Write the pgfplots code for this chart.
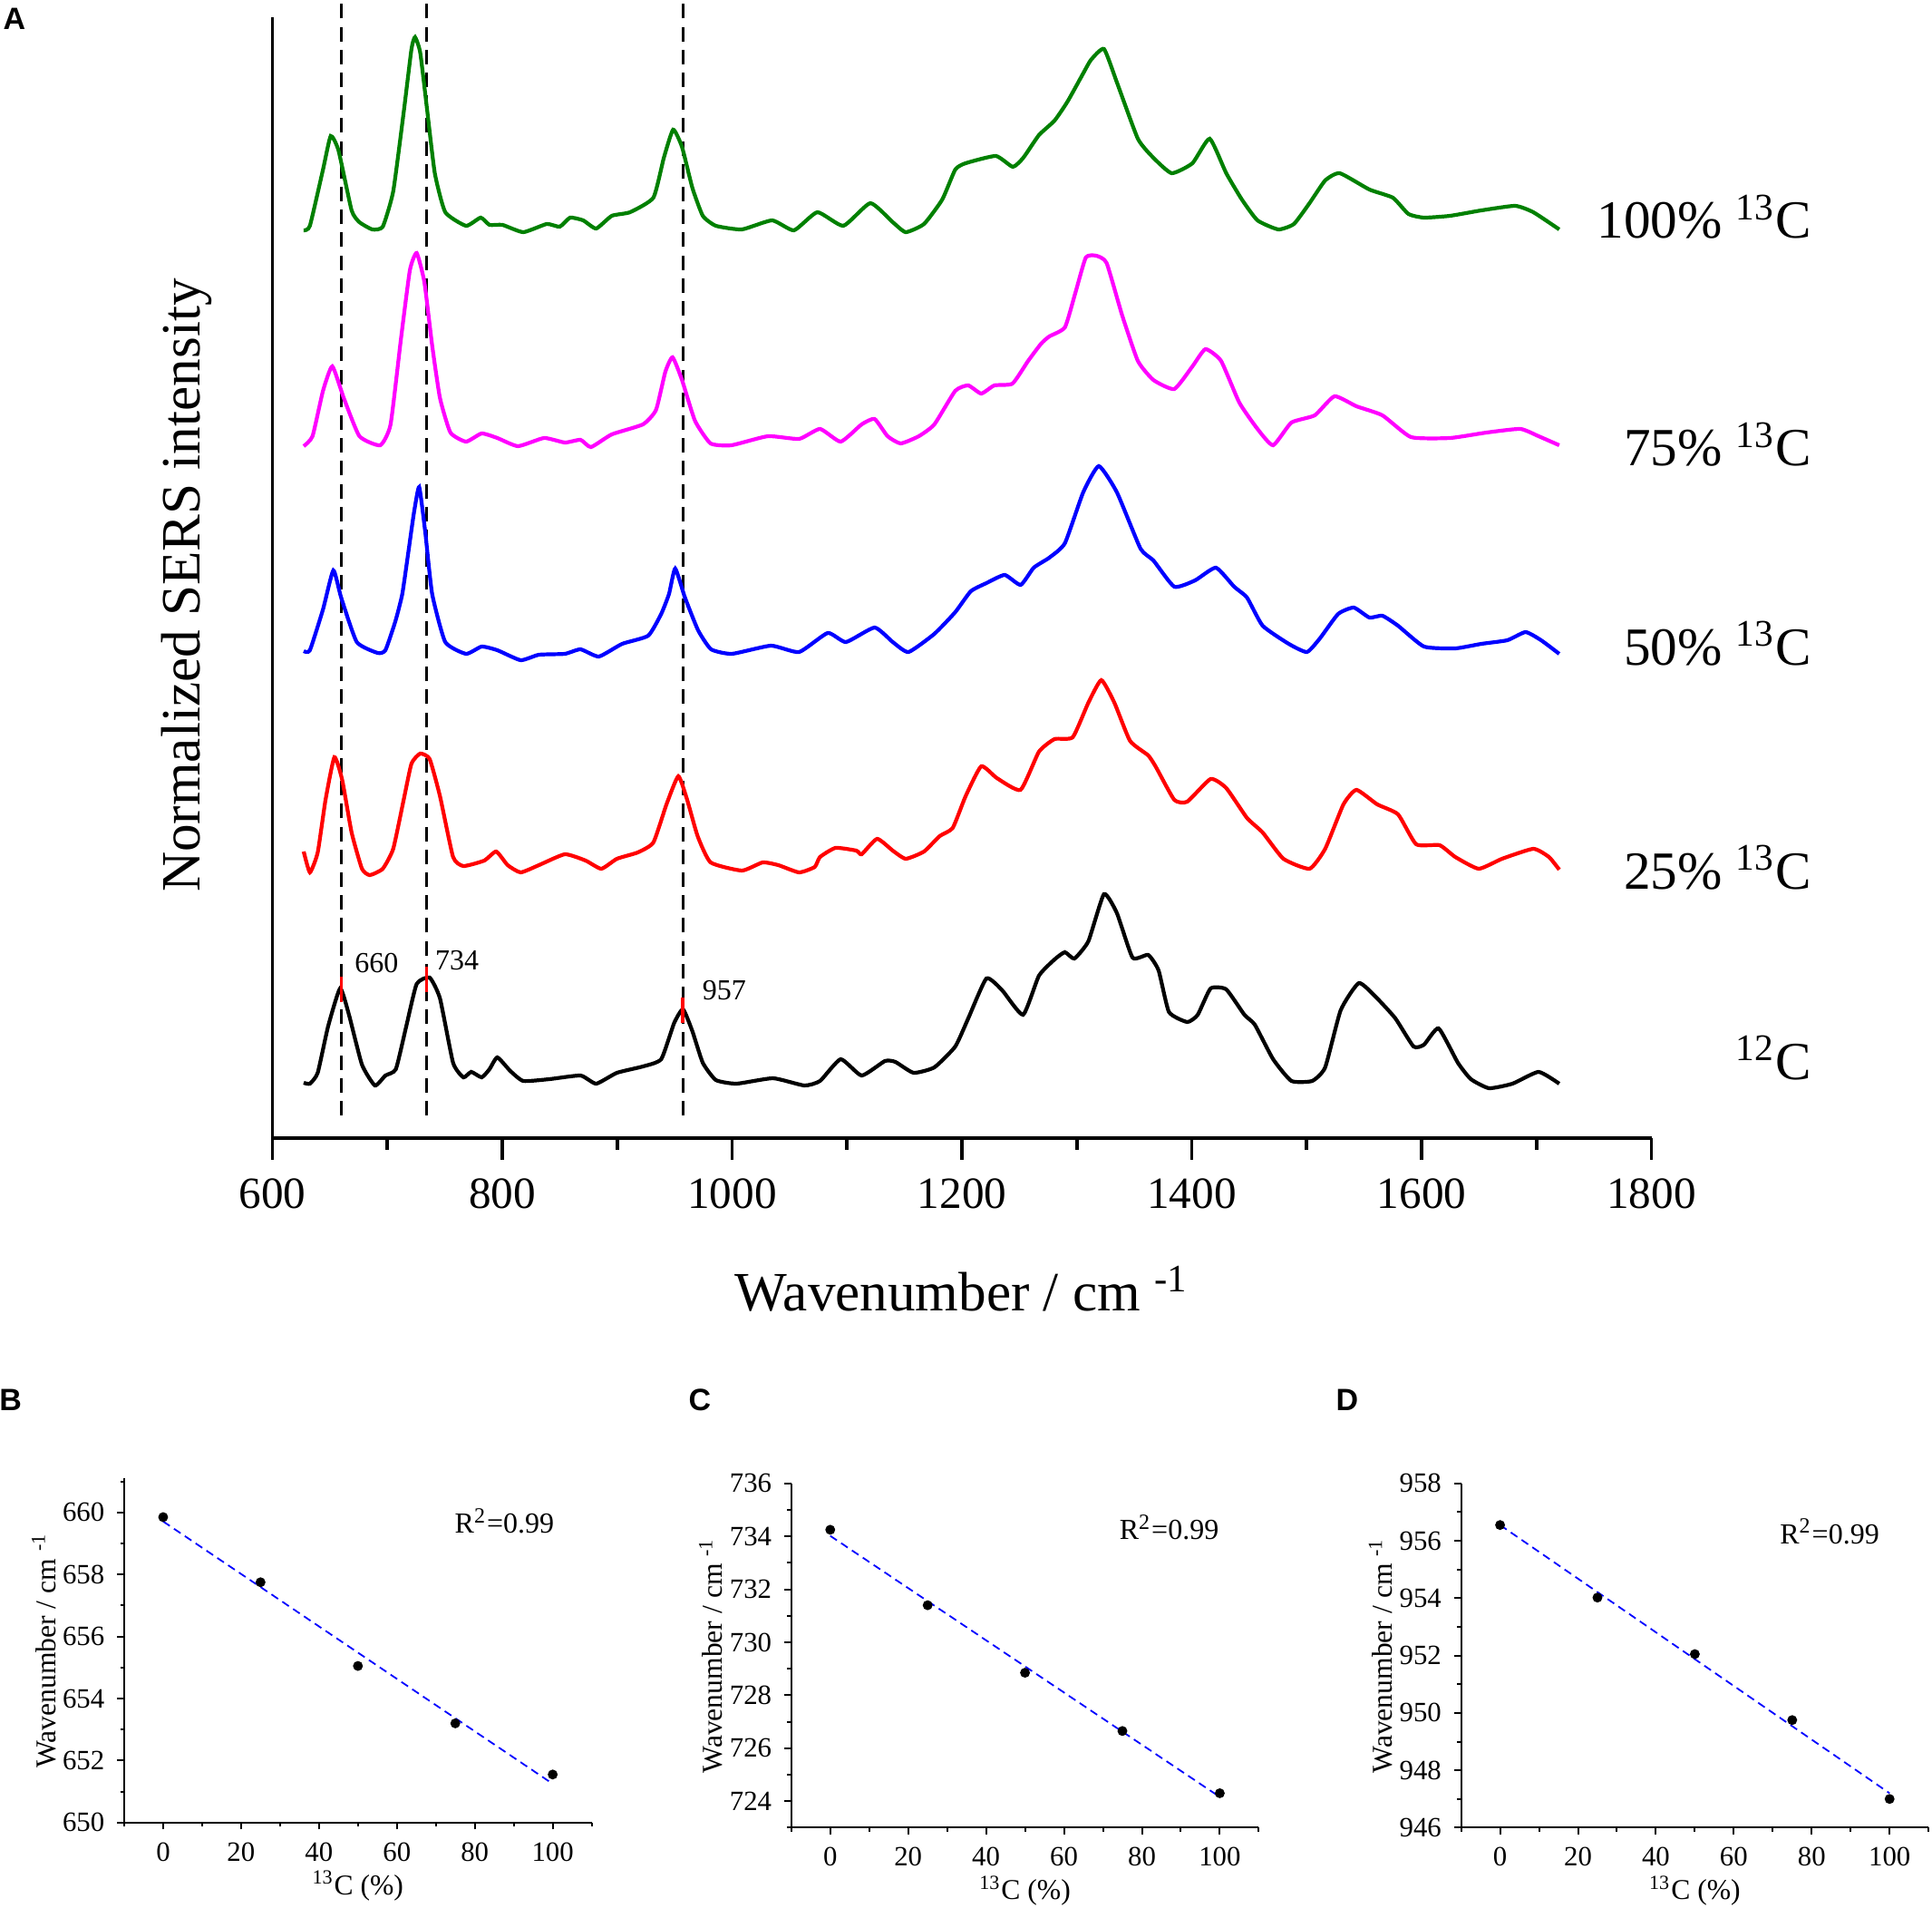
\documentclass[border=0pt]{standalone}
\usepackage{fontspec}
\setmainfont{Liberation Serif}
\newfontfamily\panelfont{Liberation Sans}
\usepackage{pgfplots}
\pgfplotsset{compat=1.18}
\definecolor{sgreen}{rgb}{0,0.5,0}
\definecolor{smag}{rgb}{1,0,1}
\definecolor{sblue}{rgb}{0,0,1}
\definecolor{sred}{rgb}{1,0,0}
\pgfplotsset{
  small/.style={
    scale only axis, anchor=south west, width=128.9pt, height=94.9pt,
    xmin=-10, xmax=110,
    axis x line*=bottom, axis y line*=left,
    xtick={0,20,40,60,80,100}, minor xtick={-10,10,30,50,70,90,110},
    tick align=outside, major tick length=1.9pt, minor tick length=1.1pt,
    axis line style={line width=0.5pt}, tick style={black,line width=0.5pt},
    /pgf/number format/assume math mode=true,
    /pgf/number format/1000 sep={},
    tick label style={font=\fontsize{7.7}{9}\selectfont},
    xlabel={\textsuperscript{13}C (\%)},
    xlabel style={at={(axis description cs:0.5,-0.184)}, anchor=center, font=\fontsize{7.9}{9}\selectfont},
    ylabel={Wavenumber / cm \textsuperscript{-1}},
    ylabel style={at={(axis description cs:-0.172,0.5)}, anchor=center, font=\fontsize{7.9}{9}\selectfont},
    clip=false,
  },
  fitline/.style={sblue, line width=0.45pt, dash pattern=on 2.2pt off 1.4pt},
  pts/.style={only marks, mark=*, mark size=1.15pt, black},
  spec/.style={line width=1.05pt, smooth, tension=0.3},
}
\begin{document}
\begin{tikzpicture}
\useasboundingbox (0,0) rectangle (532.75pt,525.75pt);
\begin{axis}[
  at={(75.125pt,212pt)}, anchor=south west, scale only axis,
  width=380.25pt, height=309pt,
  xmin=600, xmax=1800, ymin=0, ymax=1236,
  axis x line*=bottom, axis y line*=left,
  xtick={600,800,1000,1200,1400,1600,1800},
  minor xtick={700,900,1100,1300,1500,1700},
  ytick=\empty,
  tick align=outside, major tick length=6pt, minor tick length=3.2pt,
  axis line style={line width=0.9pt}, tick style={black,line width=0.9pt},
  /pgf/number format/assume math mode=true,
  /pgf/number format/1000 sep={},
  tick label style={font=\fontsize{12.3}{14}\selectfont},
  xticklabel style={yshift=-1.6pt},
  xlabel={Wavenumber / cm \textsuperscript{-1}},
  xlabel style={at={(axis description cs:0.5,-0.1343)}, anchor=center, font=\fontsize{15.3}{18}\selectfont},
  ylabel={Normalized SERS intensity},
  ylabel style={at={(axis description cs:-0.0625,0.493)}, anchor=center, font=\fontsize{15.3}{18}\selectfont},
  clip=false,
]
% dashed reference lines
\addplot[black, line width=0.75pt, dash pattern=on 4pt off 2.3pt] coordinates {(660,25) (660,1255)};
\addplot[black, line width=0.75pt, dash pattern=on 4pt off 2.3pt] coordinates {(734,25) (734,1255)};
\addplot[black, line width=0.75pt, dash pattern=on 4pt off 2.3pt] coordinates {(957,25) (957,1255)};
% 100% 13C
\addplot[sgreen, spec] coordinates {
(627.2,1001)(632.6,1006)(644,1068)(650.7,1105)(657.5,1089)(668.9,1023)(675.7,1010)(686.9,1002)
(696,1005)(705.1,1044)(714.2,1131)(721,1201)(724.1,1214)(728.6,1197)(734.5,1135)(741.3,1064)
(750.4,1021)(768.5,1006)(781.2,1015)(788.9,1007)(800.2,1007)(818.3,999)(838.7,1008)(850,1005)
(859,1015)(870.4,1012)(881.7,1003)(895.3,1017)(911.2,1021)(931.5,1037)(940.6,1081)(948.7,1112)
(956.4,1093)(965.4,1048)(974.5,1017)(985.9,1006)(1008.5,1002)(1034.8,1012)(1053.8,1001)(1074.2,1021)
(1096.8,1006)(1120.3,1031)(1139.8,1010)(1151.1,999)(1167,1008)(1182.9,1035)(1194.2,1068)(1203.2,1075)
(1229.5,1083)(1244.3,1071)(1253.4,1081)(1267,1106)(1280.6,1122)(1291.9,1143)(1305.5,1174)(1312.3,1189)
(1323.6,1201)(1334.9,1164)(1353.1,1102)(1366.6,1081)(1382.5,1064)(1400.6,1075)(1415.6,1102)(1430,1064)
(1443.6,1035)(1457.2,1012)(1475.3,1002)(1488.9,1008)(1502.5,1031)(1516.1,1056)(1528.8,1064)(1554.6,1046)
(1575,1037)(1588.6,1019)(1602.1,1015)(1624.8,1017)(1652,1023)(1681.4,1028)(1697.2,1021)(1719.8,1002)};
% 75% 13C
\addplot[smag, spec] coordinates {
(627.2,763)(634.9,774)(644,824)(652.1,851)(662.1,816)(675.7,774)(693.8,764)(702.8,787)
(711.9,882)(719.6,957)(725.5,976)(732.2,944)(739,874)(745.8,816)(754.9,778)(768.5,768)
(782.1,777)(795.7,772)(813.7,763)(836.4,772)(854.5,767)(868.1,770)(877.2,762)(895.3,776)
(922.4,787)(933.8,803)(941.9,845)(948.2,861)(956.4,836)(967.7,791)(981.3,766)(999.4,764)
(1031.2,774)(1058.3,771)(1076.5,782)(1094.5,768)(1112.7,787)(1124,793)(1135.3,774)(1146.7,766)
(1162.5,774)(1176,787)(1194.2,824)(1205.5,830)(1216.8,821)(1228.2,830)(1244,832)(1257.6,857)
(1268.9,876)(1276,884)(1289.6,894)(1298.7,932)(1307.8,971)(1316.8,973)(1325.9,965)(1339.5,907)
(1353.1,857)(1366.6,836)(1384.8,826)(1400.6,851)(1411.9,870)(1425.5,857)(1441.4,811)(1457.2,782)
(1470.8,764)(1486.7,789)(1507,797)(1524.2,818)(1543.3,807)(1565.9,797)(1590.8,773)(1624.8,772)
(1656.5,778)(1685.9,782)(1701.8,774)(1719.8,764)};
% 50% 13C
\addplot[sblue, spec] coordinates {
(627.2,537)(632.6,538)(644,583)(653,626)(659.8,596)(673.4,547)(691.5,535)(698.3,538)
(707,570)(713,600)(718.7,650)(723.2,690)(727.7,718)(733,668)(739,600)(750.4,547)(768.5,534)(782.1,542)
(795.7,538)(816,527)(831.9,533)(854.5,534)(868.1,539)(884,531)(904.3,545)(927,554)
(938.3,578)(945.1,600)(950.5,628)(959,596)(970.4,560)(981.7,539)(999.8,534)(1033.8,543)
(1058.3,536)(1083.2,557)(1099.1,547)(1124,563)(1139.8,547)(1153.5,536)(1176,556)(1194.2,580)
(1207.7,603)(1221.3,612)(1237.2,621)(1251.1,610)(1262.5,629)(1276,640)(1289.6,656)(1305.5,712)
(1319.1,741)(1334.9,712)(1355.4,650)(1366.6,637)(1384.8,608)(1402.9,615)(1421,629)(1436.9,608)
(1448.1,596)(1461.7,565)(1484.4,545)(1500.2,536)(1511.5,551)(1527.4,578)(1541,585)(1554.6,574)
(1565.9,576)(1579.5,565)(1602.1,542)(1629.3,540)(1652,545)(1674.6,549)(1690.5,558)(1704,549)
(1719.8,534)};
% 25% 13C
\addplot[sred, spec] coordinates {
(627.2,316)(632.6,293)(639.4,315)(646.2,373)(653.9,420)(660.7,395)(668.9,337)(677.9,297)
(684.7,290)(696,297)(705.1,319)(714.2,373)(721,413)(728.6,424)(736.8,418)(745.8,377)
(757.2,310)(766.2,300)(784.3,306)(794.7,316)(804.7,301)(816,293)(831.9,301)(854.5,313)
(872.6,306)(886.2,297)(899.8,308)(917.9,315)(931.5,326)(942.9,368)(953.2,399)(960.9,373)
(970,333)(981.3,304)(1008.5,295)(1026.6,304)(1040.2,301)(1058.3,293)(1071.9,299)(1076.5,310)
(1090,320)(1108.1,317)(1112.7,313)(1126.2,330)(1139.8,317)(1151.1,308)(1167,316)(1180.6,333)
(1192,342)(1203.2,377)(1216.8,410)(1230.4,397)(1251,384)(1267,426)(1280.6,440)(1296.4,442)
(1310,480)(1321.3,505)(1332.7,480)(1346.3,438)(1362.1,422)(1368.9,409)(1384.8,373)(1396.1,371)
(1416.4,396)(1430,386)(1448.1,353)(1461.7,337)(1479.8,308)(1502.5,297)(1516.1,319)(1532,368)
(1543.3,384)(1561.4,368)(1579.5,357)(1595.3,324)(1615.7,323)(1629.3,310)(1649.7,297)(1670,308)
(1697.2,319)(1710.8,310)(1719.8,296)};
% 12C
\addplot[black, spec] coordinates {
(627.2,61)(632.6,60)(639.4,72)(648.4,123)(658.9,165)(666.6,136)(677.9,81)(689.2,58)
(698.3,69)(707.4,76)(716.4,123)(725.5,170)(736.8,177)(745.8,154)(757.2,83)(766.2,67)
(773,73)(782.1,67)(788.9,76)(795.7,89)(807,74)(818.3,63)(841,65)(868.1,69)
(881.7,60)(899.8,72)(922.4,79)(938.3,87)(949.6,127)(957.3,142)(965.4,118)(974.5,83)
(985.9,64)(1003.9,60)(1035.6,66)(1062.8,58)(1076.5,63)(1094.5,87)(1112.7,69)(1133,85)
(1142.1,84)(1157.9,72)(1176,78)(1194.2,101)(1205.5,132)(1221.3,176)(1235,163)(1253.2,136)
(1267,179)(1280.6,197)(1289.6,205)(1297.8,198)(1310,217)(1323.6,269)(1334.9,248)(1348.5,199)
(1362.1,202)(1371.1,185)(1380.2,139)(1396.1,128)(1405.2,136)(1416.4,165)(1430,164)(1445.8,136)
(1454.9,125)(1470.8,87)(1486.7,63)(1504.8,63)(1516.1,78)(1529.6,141)(1545.5,171)(1561.4,154)
(1577.2,132)(1593,101)(1602.1,103)(1614.8,121)(1631.6,83)(1642.9,65)(1658.7,55)(1679.1,60)
(1701.8,73)(1719.8,60)};
% red peak markers
\addplot[sred, line width=0.8pt] coordinates {(660,150) (660,178)};
\addplot[sred, line width=0.8pt] coordinates {(734,161) (734,189)};
\addplot[sred, line width=0.8pt] coordinates {(957,127) (957,155)};
% peak labels
\node[anchor=base west, inner sep=0pt, font=\fontsize{8}{9}\selectfont] at (axis cs:671,183) {660};
\node[anchor=base west, inner sep=0pt, font=\fontsize{8}{9}\selectfont] at (axis cs:741,186) {734};
\node[anchor=base west, inner sep=0pt, font=\fontsize{8}{9}\selectfont] at (axis cs:973.6,153) {957};
% curve labels
\node[anchor=base east, inner sep=0pt, font=\fontsize{14.8}{17}\selectfont] at (axis cs:1939.5,992) {100\% \textsuperscript{13}C};
\node[anchor=base east, inner sep=0pt, font=\fontsize{14.8}{17}\selectfont] at (axis cs:1939.5,741) {75\% \textsuperscript{13}C};
\node[anchor=base east, inner sep=0pt, font=\fontsize{14.8}{17}\selectfont] at (axis cs:1939.5,522) {50\% \textsuperscript{13}C};
\node[anchor=base east, inner sep=0pt, font=\fontsize{14.8}{17}\selectfont] at (axis cs:1939.5,275) {25\% \textsuperscript{13}C};
\node[anchor=base east, inner sep=0pt, font=\fontsize{14.8}{17}\selectfont] at (axis cs:1939.5,65) {\textsuperscript{12}C};
\end{axis}

% B
\begin{axis}[small, at={(34.25pt,23.3pt)}, ymin=650, ymax=661.1,
  ytick={650,652,654,656,658,660}, minor ytick={651,653,655,657,659,661}]
\addplot[fitline] coordinates {(0,659.71) (100,651.25)};
\addplot[pts] coordinates {(0,659.85) (25,657.75) (50,655.05) (75,653.2) (100,651.55)};
\node[font=\fontsize{8}{9}\selectfont] at (axis cs:87.6,659.72) {R\textsuperscript{2}=0.99};
\end{axis}
% C
\begin{axis}[small, at={(218.2pt,21.9pt)}, ymin=723, ymax=736,
  ytick={724,726,728,730,732,734,736}, minor ytick={723,725,727,729,731,733,735}]
\addplot[fitline] coordinates {(0,734.02) (100,724.16)};
\addplot[pts] coordinates {(0,734.25) (25,731.4) (50,728.85) (75,726.65) (100,724.3)};
\node[font=\fontsize{8}{9}\selectfont] at (axis cs:87,734.35) {R\textsuperscript{2}=0.99};
\end{axis}
% D
\begin{axis}[small, at={(402.9pt,21.9pt)}, ymin=946, ymax=958,
  ytick={946,948,950,952,954,956,958}, minor ytick={947,949,951,953,955,957}]
\addplot[fitline] coordinates {(0,956.55) (100,947.2)};
\addplot[pts] coordinates {(0,956.55) (25,954.02) (50,952.05) (75,949.75) (100,947.0)};
\node[font=\fontsize{8}{9}\selectfont] at (axis cs:84.6,956.33) {R\textsuperscript{2}=0.99};
\end{axis}

\node[font=\panelfont\bfseries\fontsize{8.5}{10}\selectfont] at (4pt,520.5pt) {A};
\node[font=\panelfont\bfseries\fontsize{8.5}{10}\selectfont] at (2.9pt,139.75pt) {B};
\node[font=\panelfont\bfseries\fontsize{8.5}{10}\selectfont] at (193pt,139.75pt) {C};
\node[font=\panelfont\bfseries\fontsize{8.5}{10}\selectfont] at (371.5pt,139.75pt) {D};
\end{tikzpicture}
\end{document}
